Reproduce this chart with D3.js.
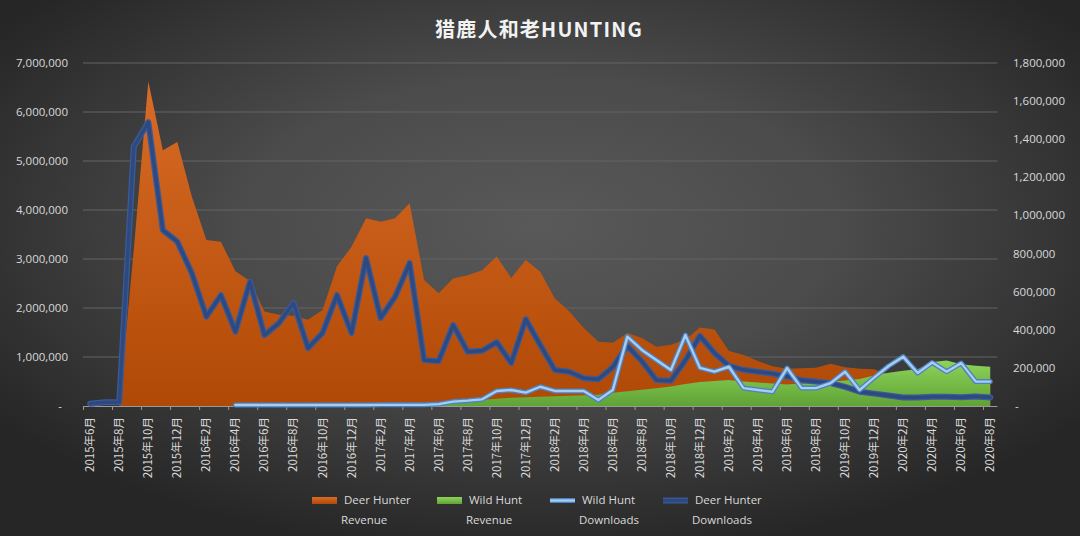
<!DOCTYPE html>
<html>
<head>
<meta charset="utf-8">
<script src="https://cdn.jsdelivr.net/npm/d3@7"></script>
<style>
  body { margin: 0; background: #2b2b2b; }
  svg { display: block; }
</style>
</head>
<body>
<script>
// month categories, 2015-06 .. 2020-08
const months = [
  "2015年6月","2015年7月","2015年8月","2015年9月","2015年10月","2015年11月","2015年12月",
  "2016年1月","2016年2月","2016年3月","2016年4月","2016年5月","2016年6月","2016年7月","2016年8月","2016年9月","2016年10月","2016年11月","2016年12月",
  "2017年1月","2017年2月","2017年3月","2017年4月","2017年5月","2017年6月","2017年7月","2017年8月","2017年9月","2017年10月","2017年11月","2017年12月",
  "2018年1月","2018年2月","2018年3月","2018年4月","2018年5月","2018年6月","2018年7月","2018年8月","2018年9月","2018年10月","2018年11月","2018年12月",
  "2019年1月","2019年2月","2019年3月","2019年4月","2019年5月","2019年6月","2019年7月","2019年8月","2019年9月","2019年10月","2019年11月","2019年12月",
  "2020年1月","2020年2月","2020年3月","2020年4月","2020年5月","2020年6月","2020年7月","2020年8月"
];

// left axis
const deerRevenue = [
  0, 0, 0, 3200000, 6620000, 5220000, 5390000,
  4270000, 3390000, 3350000, 2750000, 2550000, 1930000, 1860000, 1840000, 1760000, 1960000, 2850000, 3250000,
  3830000, 3760000, 3830000, 4140000, 2570000, 2300000, 2600000, 2670000, 2770000, 3050000, 2610000, 2980000,
  2740000, 2200000, 1930000, 1590000, 1310000, 1290000, 1490000, 1390000, 1210000, 1250000, 1350000, 1600000,
  1560000, 1120000, 1040000, 920000, 810000, 760000, 770000, 780000, 860000, 790000, 760000, 750000,
  640000, 620000, 600000, 590000, 560000, 550000, 520000, 500000
];
const wildRevenue = [
  null, null, null, null, null, null, null,
  null, null, null, 10000, 15000, 20000, 20000, 25000, 25000, 30000, 30000, 35000,
  40000, 40000, 45000, 50000, 50000, 55000, 60000, 70000, 120000, 150000, 170000, 180000,
  190000, 200000, 210000, 220000, 230000, 270000, 300000, 330000, 360000, 400000, 450000, 490000,
  510000, 530000, 500000, 480000, 460000, 440000, 460000, 480000, 500000, 520000, 550000, 620000,
  680000, 720000, 750000, 900000, 930000, 850000, 820000, 800000
];

// right axis
const wildDownloads = [
  null, null, null, null, null, null, null,
  null, null, null, 5000, 5000, 5000, 5000, 5000, 5000, 5000, 5000, 5000,
  5000, 6000, 6000, 6000, 6000, 10000, 23000, 28000, 35000, 79000, 84000, 70000,
  101000, 79000, 79000, 79000, 31000, 84000, 364000, 294000, 241000, 189000, 372000, 200000,
  180000, 206000, 94000, 84000, 75000, 199000, 94000, 94000, 120000, 180000, 84000, 149000,
  210000, 259000, 173000, 228000, 180000, 225000, 128000, 128000
];
const deerDownloads = [
  12000, 20000, 20000, 1360000, 1490000, 923000, 862000,
  697000, 469000, 582000, 390000, 652000, 372000, 435000, 540000, 304000, 383000, 582000, 383000,
  776000, 462000, 573000, 750000, 241000, 235000, 425000, 285000, 290000, 335000, 225000, 455000,
  320000, 189000, 180000, 146000, 140000, 205000, 315000, 235000, 136000, 132000, 240000, 368000,
  278000, 210000, 190000, 180000, 170000, 155000, 135000, 128000, 120000, 100000, 75000, 65000,
  55000, 45000, 45000, 48000, 48000, 46000, 50000, 45000
];

const leftTicks = [0, 1000000, 2000000, 3000000, 4000000, 5000000, 6000000, 7000000];
const rightTicks = [0, 200000, 400000, 600000, 800000, 1000000, 1200000, 1400000, 1600000, 1800000];

const legendItems = [
  { name: ["Deer Hunter", "Revenue"], type: "area", key: "orange" },
  { name: ["Wild Hunt", "Revenue"], type: "area", key: "green" },
  { name: ["Wild Hunt", "Downloads"], type: "line", key: "light" },
  { name: ["Deer Hunter", "Downloads"], type: "line", key: "dark" }
];

const W = 1080, H = 536;
const plot = { left: 83, right: 997.5, top: 63, bottom: 406 };
const fmt = d3.format(",");
const labelFont = "'Open Sans', 'Noto Sans', sans-serif";
const cjkFont = "'Noto Sans CJK SC', 'Noto Sans', sans-serif";

const svg = d3.select("body").append("svg")
    .attr("width", W)
    .attr("height", H);

const defs = svg.append("defs");

const bg = defs.append("radialGradient")
    .attr("id", "bg")
    .attr("cx", "50%").attr("cy", "42%").attr("r", "62%");
bg.append("stop").attr("offset", "0%").attr("stop-color", "#595959");
bg.append("stop").attr("offset", "45%").attr("stop-color", "#4b4b4b");
bg.append("stop").attr("offset", "100%").attr("stop-color", "#262626");

const og = defs.append("linearGradient")
    .attr("id", "orangeFill").attr("x1", 0).attr("y1", 0).attr("x2", 0).attr("y2", 1);
og.append("stop").attr("offset", "0%").attr("stop-color", "#d96c26");
og.append("stop").attr("offset", "100%").attr("stop-color", "#b04906");

const gg = defs.append("linearGradient")
    .attr("id", "greenFill").attr("x1", 0).attr("y1", 0).attr("x2", 0).attr("y2", 1);
gg.append("stop").attr("offset", "0%").attr("stop-color", "#8fd35a");
gg.append("stop").attr("offset", "100%").attr("stop-color", "#5fa336");

svg.append("rect")
    .attr("width", W)
    .attr("height", H)
    .attr("fill", "url(#bg)");

// scales
const x = d3.scaleBand()
    .domain(months)
    .range([plot.left, plot.right])
    .padding(0);
const cx = m => x(m) + x.bandwidth() / 2;

const yL = d3.scaleLinear().domain([0, 7000000]).range([plot.bottom, plot.top]);
const yR = d3.scaleLinear().domain([0, 1800000]).range([plot.bottom, plot.top]);

// gridlines
svg.append("g")
  .selectAll("line")
  .data(leftTicks.slice(1))
  .join("line")
    .attr("x1", plot.left)
    .attr("x2", plot.right)
    .attr("y1", d => yL(d))
    .attr("y2", d => yL(d))
    .attr("stroke", "#656565")
    .attr("stroke-width", 1);

// left axis labels
svg.append("g")
  .selectAll("text")
  .data(leftTicks)
  .join("text")
    .attr("x", d => d === 0 ? 62 : 68)
    .attr("y", d => yL(d) + 4)
    .attr("text-anchor", "end")
    .attr("fill", "#d9d9d9")
    .style("font-family", labelFont)
    .style("font-size", "11.5px")
    .text(d => d === 0 ? "-" : fmt(d));

// right axis labels
svg.append("g")
  .selectAll("text")
  .data(rightTicks)
  .join("text")
    .attr("x", d => d === 0 ? 1015 : 1013)
    .attr("y", d => yR(d) + 4)
    .attr("text-anchor", "start")
    .attr("fill", "#d9d9d9")
    .style("font-family", labelFont)
    .style("font-size", "11.5px")
    .text(d => d === 0 ? "-" : fmt(d));

// areas
const idx = d3.range(months.length);

const area = vals => d3.area()
    .defined(i => vals[i] != null)
    .x(i => cx(months[i]))
    .y0(yL(0))
    .y1(i => yL(vals[i]));

svg.append("path")
    .datum(idx)
    .attr("d", area(deerRevenue))
    .attr("fill", "url(#orangeFill)");

svg.append("path")
    .datum(idx)
    .attr("d", area(wildRevenue))
    .attr("fill", "url(#greenFill)");

// x axis line + ticks
const axisG = svg.append("g");
axisG.append("line")
    .attr("x1", plot.left).attr("x2", plot.right)
    .attr("y1", plot.bottom + 0.5).attr("y2", plot.bottom + 0.5)
    .attr("stroke", "#9a9a9a");
axisG.selectAll("line.tick")
  .data(months.filter((m, i) => i % 2 === 0))
  .join("line")
    .attr("class", "tick")
    .attr("x1", d => x(d) + 0.5).attr("x2", d => x(d) + 0.5)
    .attr("y1", plot.bottom).attr("y2", plot.bottom + 4)
    .attr("stroke", "#9a9a9a");

axisG.selectAll("text")
  .data(months.filter((m, i) => i % 2 === 0))
  .join("text")
    .attr("transform", d => `translate(${cx(d) + 4},${plot.bottom + 11}) rotate(-90)`)
    .attr("text-anchor", "end")
    .attr("fill", "#d9d9d9")
    .style("font-family", cjkFont)
    .style("font-size", "11.5px")
    .text(d => d);

// lines (secondary axis)
const line = vals => d3.line()
    .defined(i => vals[i] != null)
    .x(i => cx(months[i]))
    .y(i => yR(vals[i]));

const lineStyles = {
  dark: [{ c: "#3b5a96", w: 6 }, { c: "#2d4980", w: 3.4 }],
  light: [{ c: "#4a82c4", w: 5 }, { c: "#a8cdee", w: 2.4 }]
};

function drawLine(vals, key) {
  lineStyles[key].forEach(s => {
    svg.append("path")
        .datum(idx)
        .attr("d", line(vals))
        .attr("fill", "none")
        .attr("stroke", s.c)
        .attr("stroke-width", s.w)
        .attr("stroke-linejoin", "round")
        .attr("stroke-linecap", "round");
  });
}

drawLine(deerDownloads, "dark");
drawLine(wildDownloads, "light");

// title
svg.append("text")
    .attr("x", 539)
    .attr("y", 37)
    .attr("text-anchor", "middle")
    .attr("fill", "#f2f2f2")
    .style("font-family", cjkFont)
    .style("font-weight", "bold")
    .style("font-size", "20px")
    .style("letter-spacing", "1.2px")
    .text("猎鹿人和老HUNTING");

// legend
const legendX = [312, 437, 550, 663];
const legend = svg.append("g");
legendItems.forEach((item, k) => {
  const g = legend.append("g").attr("transform", `translate(${legendX[k]},0)`);
  if (item.type === "area") {
    g.append("rect")
        .attr("x", 0).attr("y", 497)
        .attr("width", 25).attr("height", 7)
        .attr("fill", item.key === "orange" ? "url(#orangeFill)" : "url(#greenFill)");
  } else {
    lineStyles[item.key].forEach(s => {
      g.append("line")
          .attr("x1", 0).attr("x2", 25)
          .attr("y1", 500.5).attr("y2", 500.5)
          .attr("stroke", s.c)
          .attr("stroke-width", s.w);
    });
  }
  g.selectAll("text")
    .data(item.name)
    .join("text")
      .attr("x", (d, j) => j === 0 ? 32 : 29)
      .attr("y", (d, j) => 504 + j * 20)
      .attr("fill", "#d9d9d9")
      .style("font-family", labelFont)
      .style("font-size", "11.5px")
      .text(d => d);
});
</script>
</body>
</html>
